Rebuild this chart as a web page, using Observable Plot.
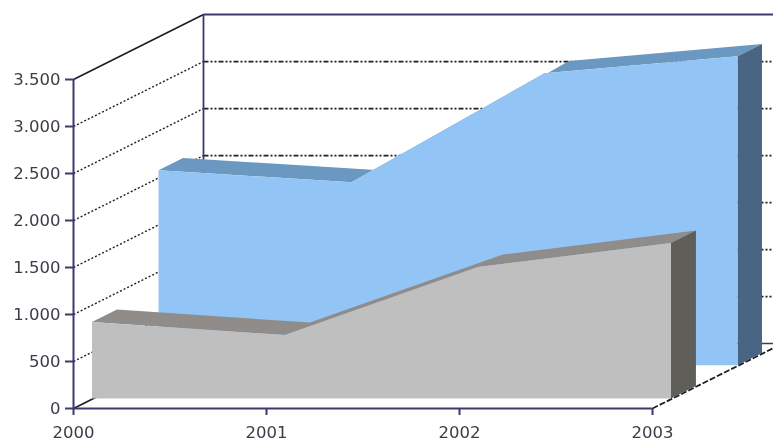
<!DOCTYPE html>
<html>
<head>
<meta charset="utf-8">
<script src="https://cdn.jsdelivr.net/npm/d3@7"></script>
<script src="https://cdn.jsdelivr.net/npm/@observablehq/plot@0.6"></script>
<style>
html,body{margin:0;padding:0;background:#fff;}
svg{display:block;filter:blur(0.35px);}
</style>
</head>
<body>
<div id="chart"></div>
<script>
// Chart values
const years = [2000, 2001, 2002, 2003];
const blueValues = [2074, 1947, 3106, 3287];
const greyValues = [814, 675, 1399, 1654];
const yTicks = [0, 500, 1000, 1500, 2000, 2500, 3000, 3500];

// Depth positions on the chart's third axis (0 = front, 1 = back wall)
const blueDepth = [0.658, 0.846];
const greyDepth = [0.146, 0.338];
const yearsPerDepth = 130 / 193;
const valuePerDepth = 691;

const X = (year, depth) => year + depth * yearsPerDepth;
const Y = (value, depth) => value + depth * valuePerDepth;

const topBand = (values, [d0, d1]) => years.map((yr, i) => ({
  x1: X(yr, d0), y1: Y(values[i], d0), x2: X(yr, d1), y2: Y(values[i], d1)
}));
const frontFace = (values, d) => years.map((yr, i) => ({
  x: X(yr, d), y1: Y(0, d), y2: Y(values[i], d)
}));
const sideFace = (values, [d0, d1]) => [d0, d1].map(d => ({
  x: X(years[3], d), y1: Y(0, d), y2: Y(values[3], d)
}));

const gridValues = yTicks.slice(1, -1);
const navy = "#3a3a6c";
const gridColor = "#1e1e26";

const band = (rows, fill) => Plot.area(rows, {x1: "x1", y1: "y1", x2: "x2", y2: "y2", fill});
const face = (rows, fill) => Plot.area(rows, {x1: "x", x2: "x", y1: "y1", y2: "y2", fill});

const chart = Plot.plot({
  width: 773,
  height: 443,
  marginLeft: 73,
  marginRight: 121,
  marginTop: 79,
  marginBottom: 35,
  style: {background: "#fff", overflow: "hidden"},
  x: {domain: [years[0], years[3]]},
  y: {domain: [0, 3500]},
  marks: [
    // left wall grid lines
    Plot.link(gridValues, {x1: years[0], y1: d => d, x2: X(years[0], 1), y2: d => Y(d, 1),
      stroke: gridColor, strokeWidth: 1.4, strokeDasharray: "2 2"}),
    // back wall grid lines
    Plot.link(gridValues, {x1: X(years[0], 1), y1: d => Y(d, 1), x2: X(years[3], 1), y2: d => Y(d, 1),
      stroke: gridColor, strokeWidth: 1.8, strokeDasharray: "5 2 2 2 2 2"}),
    // top and back frame
    Plot.link([3500], {x1: years[0], y1: d => d, x2: X(years[0], 1), y2: d => Y(d, 1), stroke: gridColor, strokeWidth: 1.8}),
    Plot.link([3500], {x1: X(years[0], 1), y1: d => Y(d, 1), x2: X(years[3], 1), y2: d => Y(d, 1), stroke: navy, strokeWidth: 2}),
    Plot.link([0], {x1: X(years[0], 1), y1: 3500 + valuePerDepth, x2: X(years[0], 1), y2: Y(0, 1), stroke: navy, strokeWidth: 1.8}),
    Plot.link([0], {x1: X(years[0], 1), y1: Y(0, 1), x2: X(years[3], 1), y2: Y(0, 1), stroke: navy, strokeWidth: 1.6}),
    // floor edges
    Plot.link([0], {x1: years[0], y1: 0, x2: X(years[0], 1), y2: Y(0, 1), stroke: gridColor, strokeWidth: 1.6}),
    Plot.link([0], {x1: years[3], y1: 0, x2: X(years[3], 1), y2: Y(0, 1), stroke: gridColor, strokeWidth: 1.8, strokeDasharray: "6 2"}),
    // blue series
    band(topBand(blueValues, blueDepth), "#6b98c0"),
    face(sideFace(blueValues, blueDepth), "#4a6583"),
    face(frontFace(blueValues, blueDepth[0]), "#93c4f6"),
    // grey series
    band(topBand(greyValues, greyDepth), "#8f8c8a"),
    face(sideFace(greyValues, greyDepth), "#5f5e58"),
    face(frontFace(greyValues, greyDepth[0]), "#bfbfbf"),
    // front axes
    Plot.ruleX([years[0]], {y1: 0, y2: 3500, stroke: navy, strokeWidth: 2}),
    Plot.ruleY([0], {x1: years[0], x2: years[3], stroke: navy, strokeWidth: 2}),
    Plot.axisY({
      ticks: yTicks, tickSize: 8, tickPadding: 5, stroke: navy, strokeWidth: 2,
      tickFormat: d => d3.format(",")(d).replace(/,/g, "."),
      fontSize: 16.5, fill: "#3c3c48", fontFamily: "DejaVu Sans", label: null
    }),
    Plot.axisX({
      ticks: years, tickSize: 7, tickPadding: 11, stroke: navy, strokeWidth: 2,
      tickFormat: d => String(d), textStroke: "none",
      fontSize: 16.5, fill: "#3c3c48", fontFamily: "DejaVu Sans", label: null
    })
  ]
});
document.getElementById("chart").appendChild(chart);
</script>
</body>
</html>
